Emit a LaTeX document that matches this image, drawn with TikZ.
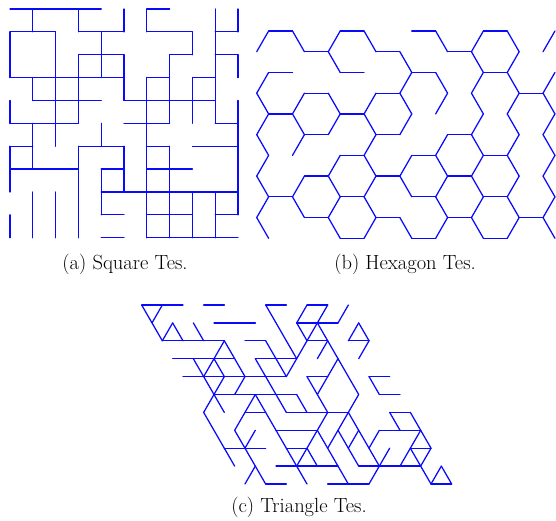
\documentclass[tikz,border=0pt]{standalone}
\begin{document}
\begin{tikzpicture}[x=1pt,y=-1pt,
  maze/.style={draw={rgb,255:red,10;green,10;blue,250},line width=1.25pt,line cap=round,line join=round},
  caption/.style={inner sep=0pt,font=\fontsize{20.5}{24}\selectfont}]
\useasboundingbox (0,0) rectangle (556,521);
% (a) square
\begin{scope}[shift={(10,9)},x=22.8pt,y=-22.87pt]
\foreach \r/\a/\b in {0/0/4,0/6/7,1/0/2,1/3/5,1/6/8,1/9/10,2/3/5,2/7/8,2/9/10,3/0/5,3/6/7,3/8/9,4/1/4,4/5/9,5/0/3,5/5/7,5/9/10,6/0/1,6/3/5,6/6/7,6/8/10,7/0/3,7/4/5,7/6/8,8/4/10,9/4/5,9/6/8,9/9/10,10/4/5,10/6/10}
  \draw[maze] (\a,\r) -- (\b,\r);
\foreach \c/\a/\b in {0/1/3,0/4/5,0/6/8,0/9/10,1/0/1,1/3/4,1/5/7,1/8/10,2/1/6,2/8/10,3/0/1,3/2/5,3/6/10,4/1/3,4/5/6,4/7/9,5/0/1,5/2/4,5/6/8,6/0/1,6/3/10,7/2/5,7/6/10,8/1/2,8/3/5,8/8/10,9/0/5,9/8/10,10/0/1,10/2/3,10/4/9}
  \draw[maze] (\c,\a) -- (\c,\b);
\end{scope}
% (b) hexagon
\begin{scope}[shift={(256.7,31)},x=11.93pt,y=-20.73pt]
\foreach \m/\a/\b in {0/1/3,0/7/9,0/13/15,0/19/21,2/1/3,2/7/9,2/13/15,2/19/21,4/1/3,4/7/9,6/7/9,6/13/15,6/19/21,8/1/3,8/7/9,8/13/15,8/19/21,10/7/9,10/13/15,10/19/21,
  1/4/6,1/10/12,1/16/18,3/4/6,3/10/12,3/22/24,5/4/6,5/10/12,5/16/18,7/4/6,7/10/12,7/16/18,9/4/6,9/10/12,9/16/18,9/22/24}
  \draw[maze] (\a,\m) -- (\b,\m);
\foreach \p/\q/\r/\s in {1/0/0/1,3/0/4/1,7/0/6/1,9/0/10/1,15/0/16/1,19/0/18/1,21/0/22/1,25/0/24/1,
  7/2/6/1,13/2/12/1,19/2/18/1,21/2/22/1,
  1/2/0/3,13/2/12/3,15/2/16/3,19/2/18/3,21/2/22/3,25/2/24/3,
  1/4/0/3,3/4/4/3,7/4/6/3,9/4/10/3,13/4/12/3,15/4/16/3,19/4/18/3,21/4/22/3,25/4/24/3,
  1/4/0/5,3/4/4/5,7/4/6/5,9/4/10/5,13/4/12/5,19/4/18/5,21/4/22/5,25/4/24/5,
  1/6/0/5,3/6/4/5,9/6/10/5,15/6/16/5,19/6/18/5,21/6/22/5,25/6/24/5,
  1/6/0/7,7/6/6/7,9/6/10/7,13/6/12/7,15/6/16/7,19/6/18/7,21/6/22/7,25/6/24/7,
  1/8/0/7,3/8/4/7,7/8/6/7,9/8/10/7,13/8/12/7,15/8/16/7,19/8/18/7,21/8/22/7,25/8/24/7,
  1/8/0/9,3/8/4/9,7/8/6/9,9/8/10/9,15/8/16/9,19/8/18/9,21/8/22/9,25/8/24/9,
  1/10/0/9,7/10/6/9,9/10/10/9,13/10/12/9,15/10/16/9,19/10/18/9,21/10/22/9,25/10/24/9}
  \draw[maze] (\p,\q) -- (\r,\s);
\end{scope}
% (c) triangle
\begin{scope}[shift={(141.67,305)},x={(20.67pt,0pt)},y={(10.33pt,-17.9pt)}]
\foreach \j/\a/\b in {0/0/2,0/3/4,0/6/7,0/8/9,1/3/5,1/7/9,2/0/3,2/4/5,2/7/8,2/9/10,3/0/3,3/4/6,4/0/5,4/6/7,4/9/10,5/1/5,5/9/10,6/2/3,6/4/7,6/9/10,7/3/5,7/8/10,8/0/2,8/3/4,8/9/10,9/2/5,9/6/9,10/1/2,10/4/6,10/9/10}
  \draw[maze] (\a,\j) -- (\b,\j);
\foreach \i/\a/\b in {0/0/2,0/6/9,1/1/2,1/3/6,1/7/10,2/1/2,2/3/4,3/2/4,3/5/10,4/3/6,4/8/9,5/2/4,5/5/6,5/7/10,6/0/3,6/4/6,6/7/9,7/1/2,7/6/9,8/1/5,9/4/5,9/6/7,9/8/10,10/1/2,10/6/8,10/9/10}
  \draw[maze] (\i,\a) -- (\i,\b);
\foreach \i/\j/\k in {1/0/1,8/0/1,9/0/1,10/0/1,1/1/1,8/1/2,10/1/1,3/2/2,8/2/1,10/2/1,6/3/1,8/3/2,2/4/1,3/4/1,1/5/1,3/5/2,8/5/1,7/6/2,6/6/3,2/7/1,7/7/1,8/7/1,10/7/2,1/9/1,8/8/1,10/8/1,7/9/1,10/9/1}
  \draw[maze] (\i,\j) -- ++(-\k,\k);
\end{scope}
\node[caption] (capa) at (125,264) {(a) Square Tes.};
\node[caption] (capb) at (405,264) {(b) Hexagon Tes.};
\node[caption] (capc) at (299,507) {(c) Triangle Tes.};
\end{tikzpicture}
\end{document}
